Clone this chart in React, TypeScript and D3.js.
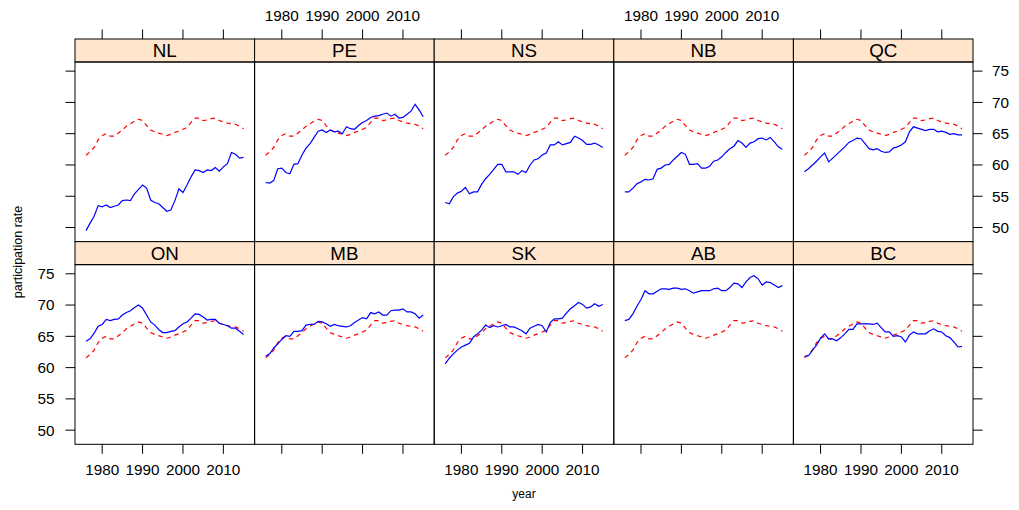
import React from "react";
import * as d3 from "d3";

const years = [1976,1977,1978,1979,1980,1981,1982,1983,1984,1985,1986,1987,1988,1989,1990,1991,1992,1993,1994,1995,1996,1997,1998,1999,2000,2001,2002,2003,2004,2005,2006,2007,2008,2009,2010,2011,2012,2013,2014,2015];

const canada = [61.55,62.1,62.8,64.0,64.7,65.0,64.6,64.6,65.1,65.6,66.2,66.6,67.0,67.3,67.1,66.3,65.6,65.3,65.1,64.9,64.7,64.9,65.2,65.4,65.7,66.0,66.8,67.5,67.5,67.1,67.2,67.4,67.5,67.1,66.9,66.7,66.6,66.5,66.2,65.8];

const NL = [49.5,50.7,51.8,53.5,53.3,53.6,53.2,53.4,53.6,54.3,54.4,54.3,55.4,56.1,56.8,56.3,54.4,54.0,53.8,53.2,52.6,52.8,54.3,56.2,55.6,56.8,58.1,59.2,59.1,58.8,59.2,59.1,59.6,59.0,59.7,60.2,62.0,61.7,61.1,61.2];
const PE = [57.2,57.1,57.5,59.4,59.5,58.8,58.6,60.1,60.2,61.6,62.7,63.4,64.4,65.4,65.6,65.2,65.6,65.3,65.4,65.0,66.1,65.8,65.7,66.3,66.8,67.1,67.6,67.8,67.9,68.1,68.3,67.8,68.1,67.5,67.6,68.1,68.6,69.7,68.8,67.7];
const NS = [54.0,53.8,54.9,55.5,55.8,56.4,55.4,55.7,55.7,56.9,57.8,58.5,59.3,60.1,60.1,58.9,58.9,58.9,58.5,59.1,58.8,60.0,60.8,61.0,61.6,61.9,63.2,63.2,63.7,63.2,63.4,63.6,64.6,64.3,63.9,63.3,63.3,63.5,63.2,62.8];
const NB = [55.7,55.7,56.3,57.0,57.3,57.7,57.6,57.8,59.3,59.5,60.0,60.1,60.8,61.4,62.0,61.7,60.1,60.1,60.2,59.5,59.5,59.8,60.6,60.8,61.3,62.0,62.6,63.0,63.9,63.5,62.8,63.5,63.7,64.2,64.3,64.0,64.4,63.7,62.9,62.5];
const QC = [58.9,59.4,60.0,60.6,61.3,61.9,60.5,61.1,61.7,62.3,62.9,63.6,63.9,64.3,64.2,63.4,62.6,62.4,62.6,62.2,62.0,62.1,62.7,62.9,63.2,63.7,65.3,66.1,65.9,65.7,65.5,65.7,65.7,65.3,65.4,65.2,64.9,65.0,64.8,64.8];
const ON = [64.2,64.6,65.5,66.6,66.9,67.7,67.5,67.7,67.8,68.4,68.8,69.1,69.6,70.0,69.5,68.4,67.3,66.8,66.1,65.6,65.6,65.8,65.9,66.5,67.0,67.3,67.9,68.6,68.5,68.1,67.6,67.7,67.7,67.1,66.9,66.7,66.3,66.3,65.8,65.3];
const MB = [61.8,62.2,63.1,63.8,64.5,65.1,65.0,65.8,65.8,65.9,66.8,66.9,66.9,67.4,67.3,67.0,66.6,66.9,66.7,66.6,66.5,66.7,67.2,67.6,68.0,67.8,68.8,68.6,68.9,68.4,68.4,69.1,69.2,69.2,69.4,68.9,68.9,68.6,67.9,68.4];
const SK = [60.6,61.5,62.2,62.8,63.3,63.6,63.9,64.9,65.4,66.0,66.8,66.4,66.7,66.5,66.7,66.9,66.5,66.5,66.2,65.9,65.4,66.3,66.6,66.9,66.7,65.7,67.2,67.8,67.8,67.9,68.7,69.4,69.9,70.4,70.1,69.5,69.7,70.2,69.8,70.1];
const AB = [67.5,67.7,68.6,69.8,70.9,72.3,71.8,71.8,72.2,72.6,72.6,72.5,72.7,72.7,72.5,72.6,72.3,71.9,72.1,72.3,72.3,72.3,72.6,72.7,72.3,72.3,72.8,73.5,73.4,72.8,73.7,74.4,74.7,74.2,73.2,73.7,73.6,73.2,72.8,73.1];
const BC = [61.8,61.9,62.8,63.6,64.7,65.4,64.6,64.6,64.3,64.8,65.4,66.1,66.1,67.0,67.0,67.0,67.0,66.9,67.1,66.4,65.7,65.7,65.0,65.1,64.9,64.1,65.2,65.7,65.4,65.4,65.4,65.9,66.2,65.8,65.7,65.1,64.8,64.1,63.3,63.4];

const topProvinces = ["NL", "PE", "NS", "NB", "QC"];
const bottomProvinces = ["ON", "MB", "SK", "AB", "BC"];
const provinceSeries: Record<string, number[]> = { NL, PE, NS, NB, QC, ON, MB, SK, AB, BC };

const xTicks = [1980, 1990, 2000, 2010];
const yTicks = [50, 55, 60, 65, 70, 75];

const FONT = "'Liberation Sans', Arial, Helvetica, sans-serif";

const left = 75;
const right = 973;
const top = 39;
const bottom = 444.3;
const stripH = 23;
const nCols = 5;
const colW = (right - left) / nCols;
const rowH = (bottom - top) / 2;
const tickLen = 9.5;

export default function App() {
  const xBase = d3.scaleLinear().domain([1973.27, 2017.73]).range([0, colW]);
  const yBase = d3.scaleLinear().domain([47.74, 76.46]).range([rowH - stripH, 0]);

  const panels: React.ReactNode[] = [];
  const rows = [topProvinces, bottomProvinces];

  rows.forEach((row, r) => {
    row.forEach((prov, c) => {
      const px = left + c * colW;
      const stripTop = top + r * rowH;
      const py = stripTop + stripH;
      const ph = rowH - stripH;
      const x = (v: number) => px + xBase(v);
      const y = (v: number) => py + yBase(v);
      const line = d3
        .line<number>()
        .x((_, i) => x(years[i]))
        .y((d) => y(d));
      const data = provinceSeries[prov];
      panels.push(
        <g key={prov}>
          <rect x={px} y={stripTop} width={colW} height={stripH} fill="#FFE5CC" stroke="#000" strokeWidth={1} />
          <text
            x={px + colW / 2}
            y={stripTop + stripH / 2 + 6.8}
            textAnchor="middle"
            fontSize={18.75}
            fontFamily={FONT}
            fill="#000"
          >
            {prov}
          </text>
          <rect x={px} y={py} width={colW} height={ph} fill="none" stroke="#000" strokeWidth={1} />
          <path d={line(canada) || ""} fill="none" stroke="#FF0000" strokeWidth={1.2} strokeDasharray="4.5,4" />
          <path d={line(data) || ""} fill="none" stroke="#0000FF" strokeWidth={1.2} />
        </g>
      );
    });
  });

  const axes: React.ReactNode[] = [];
  for (let c = 0; c < nCols; c++) {
    const px = left + c * colW;
    xTicks.forEach((t) => {
      const tx = px + xBase(t);
      axes.push(<line key={`tt${c}-${t}`} x1={tx} x2={tx} y1={top} y2={top - tickLen} stroke="#000" strokeWidth={1} />);
      axes.push(<line key={`bt${c}-${t}`} x1={tx} x2={tx} y1={bottom} y2={bottom + tickLen} stroke="#000" strokeWidth={1} />);
      if (c % 2 === 1) {
        axes.push(
          <text key={`tl${c}-${t}`} x={tx} y={21} textAnchor="middle" fontSize={15.3} fontFamily={FONT} fill="#000">
            {t}
          </text>
        );
      } else {
        axes.push(
          <text key={`bl${c}-${t}`} x={tx} y={475} textAnchor="middle" fontSize={15.3} fontFamily={FONT} fill="#000">
            {t}
          </text>
        );
      }
    });
  }
  for (let r = 0; r < 2; r++) {
    const py = top + r * rowH + stripH;
    yTicks.forEach((t) => {
      const ty = py + yBase(t);
      axes.push(<line key={`lt${r}-${t}`} x1={left} x2={left - tickLen} y1={ty} y2={ty} stroke="#000" strokeWidth={1} />);
      axes.push(<line key={`rt${r}-${t}`} x1={right} x2={right + tickLen} y1={ty} y2={ty} stroke="#000" strokeWidth={1} />);
      if (r === 1) {
        axes.push(
          <text key={`ll${r}-${t}`} x={54.5} y={ty} dy="0.35em" textAnchor="end" fontSize={15.3} fontFamily={FONT} fill="#000">
            {t}
          </text>
        );
      } else {
        axes.push(
          <text key={`rl${r}-${t}`} x={992} y={ty} dy="0.35em" textAnchor="start" fontSize={15.3} fontFamily={FONT} fill="#000">
            {t}
          </text>
        );
      }
    });
  }

  return (
    <svg
      width={1019}
      height={510}
      style={{ position: "absolute", left: 0, top: 0, background: "#fff" }}
    >
      <rect x={0} y={0} width={1019} height={510} fill="#fff" />
      {panels}
      {axes}
      <text
        transform="translate(21.5,252) rotate(-90)"
        textAnchor="middle"
        fontSize={12.5}
        fontFamily={FONT}
        fill="#000"
      >
        participation rate
      </text>
      <text x={524} y={498} textAnchor="middle" fontSize={12} fontFamily={FONT} fill="#000">
        year
      </text>
    </svg>
  );
}
